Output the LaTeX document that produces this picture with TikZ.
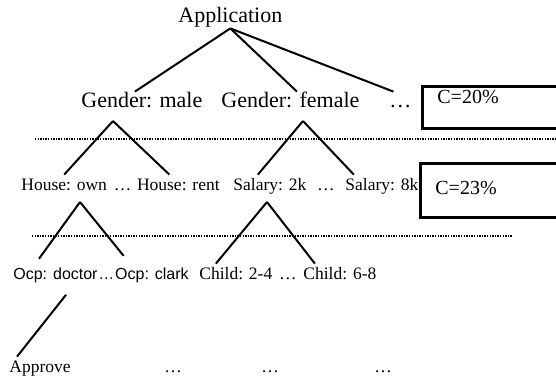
\documentclass[tikz,border=0pt]{standalone}
\usepackage{fontspec}
\setmainfont{Liberation Serif}
\setsansfont{Liberation Sans}
\usepackage{tikz}
\usetikzlibrary{positioning}

\begin{document}
\begin{tikzpicture}[x=0.5pt, y=-0.5pt,
    big/.style={font=\fontsize{11}{13}\selectfont, anchor=base west, inner sep=0.5pt, text height=0.7em, text depth=0.25em},
    mid/.style={font=\fontsize{8.75}{10}\selectfont, anchor=base west, inner sep=0.5pt, text height=0.7em, text depth=0.25em},
    ocp/.style={font=\sffamily\fontsize{8}{10}\selectfont, anchor=base west, inner sep=0.5pt, text height=0.7em, text depth=0.25em},
    cbox/.style={draw, line width=1.4pt, anchor=north west, font=\fontsize{10}{12}\selectfont, text width=60pt, inner xsep=7.5pt, inner ysep=1.5pt, text height=0.7em},
    branch/.style={draw, line width=1pt},
    sepline/.style={draw, line width=0.9pt, dash pattern=on 0.7pt off 0.6pt}]

    \clip (0,0) rectangle (556,377);

    % Level 0: root
    \node [big] (app) at (177,22) {Application};

    % Level 1: gender
    \node [big] (gm) at (80,107) {Gender: male};
    \node [big] (gf) at (220,107) {Gender: female};
    \node [big] (gdots) at (388,107) {…};
    \node [cbox, minimum height=21pt, text depth=11pt] (c20) at (421,85) {C=20\%};

    % Level 2: house / salary
    \node [mid] (own) at (20,190) {House: own};
    \node [mid, right=2pt of own] (owndots) {…};
    \node [mid, right=1.5pt of owndots] (rent) {House: rent};
    \node [mid] (s2k) at (232,190) {Salary: 2k};
    \node [mid, right=4pt of s2k] (sdots) {…};
    \node [mid, right=4pt of sdots] (s8k) {Salary: 8k};
    \node [cbox, minimum height=27pt, text depth=0.25em] (c23) at (419,162) {C=23\%};

    % Level 3: occupation / children
    \node [ocp] (doctor) at (12,279) {Ocp: doctor};
    \node [ocp, right=-1pt of doctor] (ocpdots) {…};
    \node [ocp, right=-1pt of ocpdots] (clark) {Ocp: clark};
    \node [mid] (c24) at (198,279) {Child: 2-4};
    \node [mid, right=2pt of c24] (cdots) {…};
    \node [mid, right=2pt of cdots] (c68) {Child: 6-8};

    % Level 4: decision
    \node [mid] (approve) at (8,372) {Approve};
    \node [mid] (dots1) at (163,372) {…};
    \node [mid] (dots2) at (260,372) {…};
    \node [mid] (dots3) at (373,372) {…};

    % Split points
    \coordinate (gmtop) at (113,121);
    \coordinate (gftop) at (303,121);
    \coordinate (owntop) at (80,202);
    \coordinate (s2ktop) at (267,202);

    % Paths
    \path [branch] (app.south) -- ([xshift=-3.5pt]gm.north);
    \path [branch] (app.south) -- ([xshift=3.25pt]gf.north);
    \path [branch] (app.south) -- ([xshift=-3.5pt]gdots.north);
    \path [branch] (gmtop) -- (own.north);
    \path [branch] (gmtop) -- ([xshift=-4.5pt]rent.north);
    \path [branch] (gftop) -- ([xshift=-6pt]s2k.north);
    \path [branch] (gftop) -- ([xshift=-14pt]s8k.north);
    \path [branch, shorten >=3pt] (owntop) -- ([xshift=-10pt]doctor.north);
    \path [branch, shorten >=5pt] (owntop) -- ([xshift=-11pt]clark.north);
    \path [branch] (s2ktop) -- ([xshift=-10pt]c24.north);
    \path [branch] (s2ktop) -- ([xshift=-12.5pt]c68.north);
    \path [branch, shorten <=6pt] ([xshift=9pt]doctor.south) -- ([xshift=-11.5pt]approve.north);

    % Separators
    \path [sepline] (35,139) -- (556,139);
    \path [sepline] (32,236) -- (512,236);
\end{tikzpicture}
\end{document}
